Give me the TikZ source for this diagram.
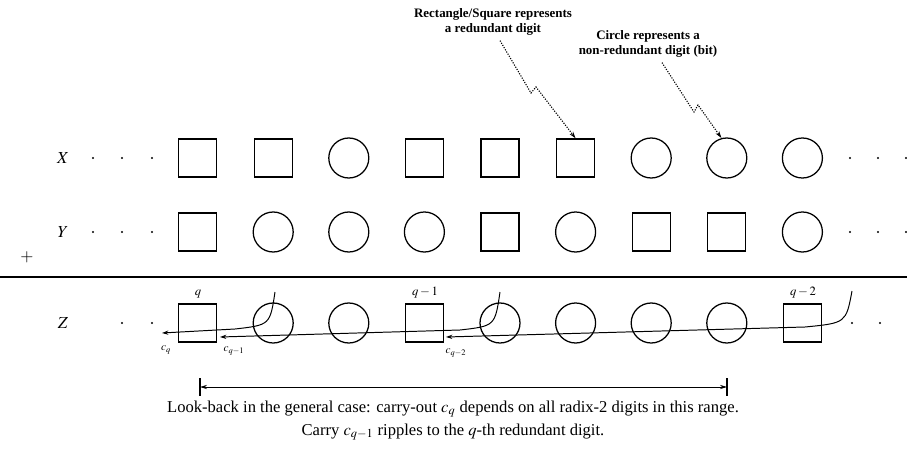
\documentclass[tikz,border=0pt]{standalone}
\usepackage{mathptmx}
\usepackage[no-math]{fontspec}
\setmainfont{Liberation Serif}
\usetikzlibrary{arrows.meta,calc}
\tikzset{
  dig/.style={rectangle,draw,line width=0.9pt,minimum size=0.95cm,inner sep=0pt},
  bit/.style={circle,draw,line width=0.9pt,minimum size=1.0cm,inner sep=0pt},
  ellip/.style={circle,fill,inner sep=0pt,minimum size=1.6pt},
  rowlbl/.style={font=\large},
  poslbl/.style={font=\small},
  clbl/.style={font=\footnotesize},
  note/.style={font=\fontsize{9.2}{11}\selectfont\bfseries,align=center},
  carry/.style={-{Stealth[length=4.5pt,width=3pt]},line width=0.7pt},
  pointer/.style={-{Stealth[length=5pt,width=3pt]},densely dotted,line width=0.8pt},
}
\begin{document}
\begin{tikzpicture}[x=0.025cm,y=-0.025cm]
  \useasboundingbox (0,0) rectangle (907,453);

  % rows of digits
  \foreach \t [count=\i] in {dig,dig,bit,dig,dig,dig,bit,bit,bit}
    \node[\t] (x\i) at ({122+75.6*\i},158) {};
  \foreach \t [count=\i] in {dig,bit,bit,bit,dig,bit,dig,dig,bit}
    \node[\t] (y\i) at ({122+75.6*\i},232) {};
  \foreach \t [count=\i] in {dig,bit,bit,dig,bit,bit,bit,bit,dig}
    \node[\t] (z\i) at ({122+75.6*\i},323) {};

  \node[rowlbl] (xl) at (63,158) {$X$};
  \node[rowlbl] (yl) at (63,232) {$Y$};
  \node[rowlbl] (zl) at (63,323) {$Z$};
  \node[font=\large] (plus) at (27,257) {$+$};

  \foreach \p in {93,122,152,850,878,906} {
    \node[ellip] at (\p,158) {};
    \node[ellip] at (\p,232) {};
  }
  \foreach \p in {122,152,852,880}
    \node[ellip] at (\p,323) {};

  \coordinate (rulel) at (0,277);
  \coordinate (ruler) at (907,277);
  \draw[line width=1pt] (rulel) -- (ruler);

  % positions of redundant digits
  \node[poslbl] (pq)  at (198,294) {$q$};
  \node[poslbl] (pq1) at (425,293) {$q-1$};
  \node[poslbl] (pq2) at (803,293) {$q-2$};

  % carry paths
  \coordinate (s2) at (852,291);
  \coordinate (s1) at (500,292);
  \coordinate (s0) at (275,292);
  \coordinate (e2) at (446,337);
  \coordinate (e1) at (220,337);
  \coordinate (e0) at (162,333);
  \draw[carry] (s2) .. controls (846,323) .. (805,327) -- (e2);
  \draw[carry] (s1) .. controls (495,326) .. (460,330) -- (e1);
  \draw[carry] (s0) .. controls (270,325) .. (235,329) -- (e0);
  \node[clbl] (cq2) at (456,353) {$c_{q-2}$};
  \node[clbl] (cq1) at (234,351) {$c_{q-1}$};
  \node[clbl] (cq)  at (166,350) {$c_q$};

  % look-back range
  \coordinate (rl) at (200,387);
  \coordinate (rr) at (727,387);
  \draw[line width=0.8pt] ($(rl)+(0,-9)$) -- ($(rl)+(0,9)$);
  \draw[line width=0.8pt] ($(rr)+(0,-9)$) -- ($(rr)+(0,9)$);
  \draw[{Stealth[length=5pt,width=3pt]}-{Stealth[length=5pt,width=3pt]},line width=0.7pt] (rl) -- (rr);

  \node[font=\fontsize{11.8}{14}\selectfont] (cap1) at (453,409)
    {Look-back in the general case: carry-out $c_q$ depends on all radix-2 digits in this range.};
  \node[font=\fontsize{11.8}{14}\selectfont] (cap2) at (453,432)
    {Carry $c_{q-1}$ ripples to the $q$-th redundant digit.};

  % notes
  \node[note] (sqnote) at (493,22) {Rectangle/Square represents\\a redundant digit};
  \node[note] (cinote) at (648,44) {Circle represents a\\non-redundant digit (bit)};
  \draw[pointer] ($(sqnote.south)+(7,0)$) -- (531,93) -- (536,87) -- (x6.north);
  \draw[pointer] ($(cinote.south)+(14,0)$) -- (694,112) -- (698,105) -- (x8.105);
\end{tikzpicture}
\end{document}
